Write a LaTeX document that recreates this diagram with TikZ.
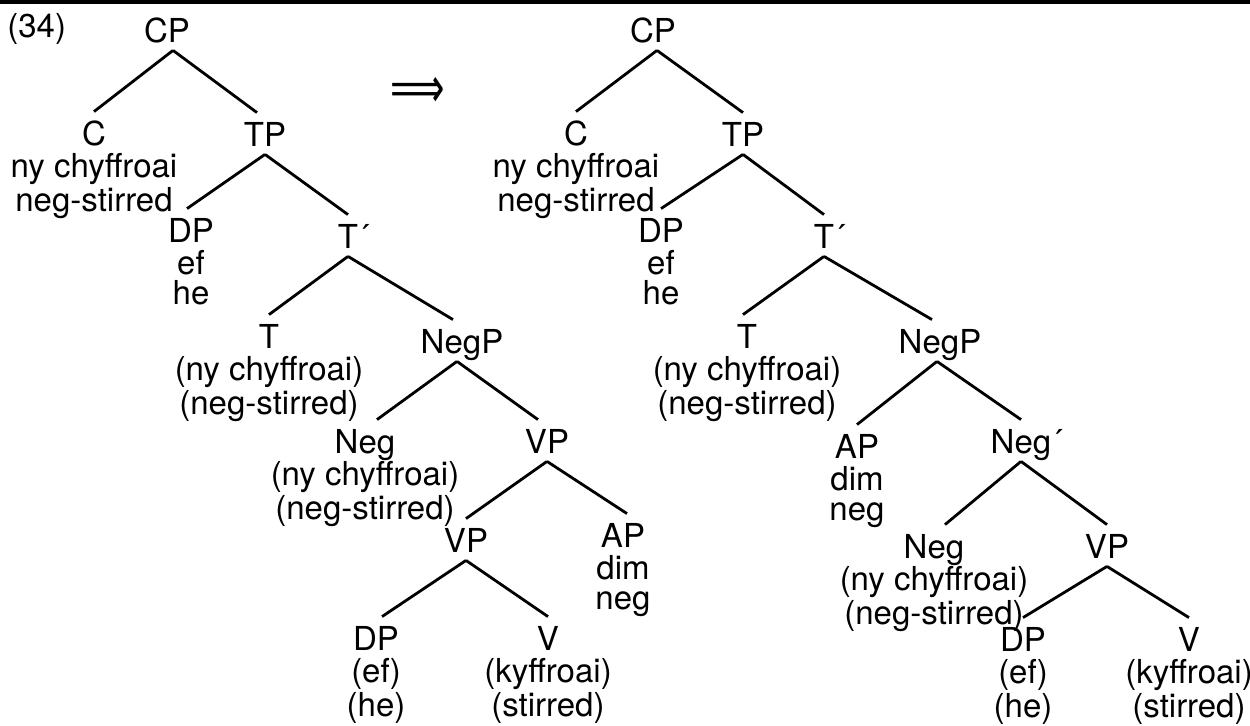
\documentclass[tikz,border=0pt]{standalone}
\usepackage{fontspec}
\usepackage{graphicx}
\setmainfont{TeX Gyre Heros}
\newfontfamily\arrowfont{DejaVu Sans}
\usetikzlibrary{positioning}
\tikzset{
	cat/.style={inner sep=0pt, text height=16.5pt, text depth=4pt, anchor=base, font=\fontsize{16.5}{15}\selectfont},
	gloss/.style={inner sep=0pt, align=center, font=\fontsize{16.5}{15}\selectfont},
	branch/.style={line width=1.4pt},
}
\begin{document}
\begin{tikzpicture}[x=.5pt, y=-.5pt]
		\useasboundingbox (0, 0) rectangle (1250, 725);
		\draw[line width=2pt] (0, 2) -- (1250, 2);
		\node[gloss, anchor=base west] (ex) at (7, 37) {(34)};
		\node[font=\arrowfont\fontsize{19}{19}\selectfont, inner sep=0pt] (arr) at (418, 92) {\scalebox{1}[1.5]{⟹}};
		% left tree
		\node[cat] (cp1) at (167, 42) {CP};
		\node[cat] (c1) at (94, 145) {C};
		\node[gloss, below=0pt of c1] (c1w) {ny chyffroai\\neg-stirred};
		\node[cat] (tp1) at (265, 146) {TP};
		\node[cat] (dp1) at (191, 242) {DP};
		\node[gloss, below=0pt of dp1] (dp1w) {ef\\he};
		\node[cat] (tb1) at (348, 248) {T\rlap{´}};
		\node[cat] (t1) at (269, 348) {T};
		\node[gloss, below=0pt of t1] (t1w) {(ny chyffroai)\\(neg-stirred)};
		\node[cat] (negp1) at (462, 353) {NegP};
		\node[cat] (neg1) at (365, 453) {Neg};
		\node[gloss, below=0pt of neg1] (neg1w) {(ny chyffroai)\\(neg-stirred)};
		\node[cat] (vp1) at (547, 453) {VP};
		\node[cat] (vpb1) at (466, 552) {VP};
		\node[cat] (ap1) at (623, 547) {AP};
		\node[gloss, below=0pt of ap1] (ap1w) {dim\\neg};
		\node[cat] (dpb1) at (376, 650) {DP};
		\node[gloss, below=0pt of dpb1] (dpb1w) {(ef)\\(he)};
		\node[cat] (v1) at (548, 650) {V};
		\node[gloss, below=0pt of v1] (v1w) {(kyffroai)\\(stirred)};
		\draw[branch] ([xshift=3pt]cp1.south) -- (c1.north);
		\draw[branch] ([xshift=3pt]cp1.south) -- ([xshift=-4pt]tp1.north);
		\draw[branch] (tp1.south) -- ([xshift=-2pt]dp1.north);
		\draw[branch] (tp1.south) -- (tb1.north);
		\draw[branch] (tb1.south) -- (t1.north);
		\draw[branch] (tb1.south) -- ([xshift=-4.5pt]negp1.north);
		\draw[branch] ([xshift=-2.5pt]negp1.south) -- ([xshift=6pt]neg1.north);
		\draw[branch] ([xshift=-2.5pt]negp1.south) -- ([xshift=-4.5pt]vp1.north);
		\draw[branch] (vp1.south) -- (vpb1.north);
		\draw[branch] (vp1.south) -- ([xshift=2pt]ap1.north);
		\draw[branch] (vpb1.south) -- ([xshift=3pt]dpb1.north);
		\draw[branch] (vpb1.south) -- (v1.north);
		% right tree
		\node[cat] (cp2) at (653, 42) {CP};
		\node[cat] (c2) at (576, 145) {C};
		\node[gloss, below=0pt of c2] (c2w) {ny chyffroai\\neg-stirred};
		\node[cat] (tp2) at (743, 146) {TP};
		\node[cat] (dp2) at (661, 242) {DP};
		\node[gloss, below=0pt of dp2] (dp2w) {ef\\he};
		\node[cat] (tb2) at (824, 248) {T\rlap{´}};
		\node[cat] (t2) at (747, 348) {T};
		\node[gloss, below=0pt of t2] (t2w) {(ny chyffroai)\\(neg-stirred)};
		\node[cat] (negp2) at (940, 353) {NegP};
		\node[cat] (ap2) at (857, 458) {AP};
		\node[gloss, below=0pt of ap2] (ap2w) {dim\\neg};
		\node[cat] (negb2) at (1021, 453) {Neg\rlap{´}};
		\node[cat] (neg2) at (934, 558) {Neg};
		\node[gloss, below=0pt of neg2] (neg2w) {(ny chyffroai)\\(neg-stirred)};
		\node[cat] (vp2) at (1107, 558) {VP};
		\node[cat] (dpb2) at (1023, 651) {DP};
		\node[gloss, below=0pt of dpb2] (dpb2w) {(ef)\\(he)};
		\node[cat] (v2) at (1189, 651) {V};
		\node[gloss, below=0pt of v2] (v2w) {(kyffroai)\\(stirred)};
		\draw[branch] ([xshift=2pt]cp2.south) -- (c2.north);
		\draw[branch] ([xshift=2pt]cp2.south) -- (tp2.north);
		\draw[branch] (tp2.south) -- (dp2.north);
		\draw[branch] (tp2.south) -- (tb2.north);
		\draw[branch] (tb2.south) -- ([xshift=-2pt]t2.north);
		\draw[branch] (tb2.south) -- ([xshift=-4pt]negp2.north);
		\draw[branch] ([xshift=-1.5pt]negp2.south) -- (ap2.north);
		\draw[branch] ([xshift=-1.5pt]negp2.south) -- (negb2.north);
		\draw[branch] (negb2.south) -- ([xshift=5.5pt]neg2.north);
		\draw[branch] (negb2.south) -- (vp2.north);
		\draw[branch] (vp2.south) -- (dpb2.north);
		\draw[branch] (vp2.south) -- (v2.north);
	\end{tikzpicture}
\end{document}
